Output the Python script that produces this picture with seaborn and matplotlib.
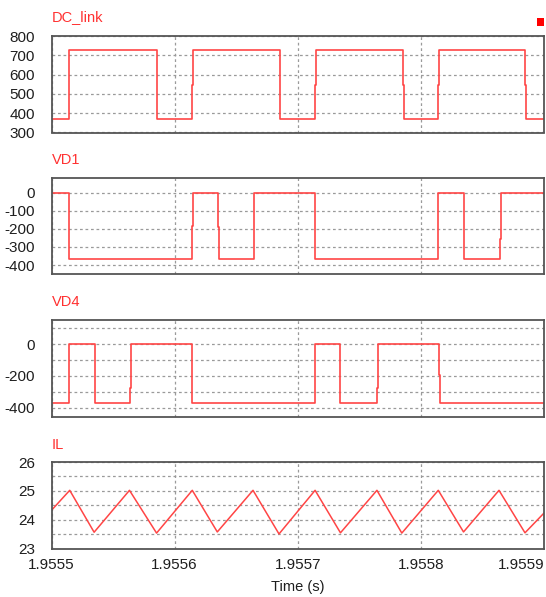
import numpy as np
import pandas as pd
import seaborn as sns
import matplotlib.pyplot as plt
from matplotlib.patches import Rectangle
from matplotlib.ticker import FixedLocator

# time axis: offsets in microseconds from t0
t0 = 1.9555
notch = 0.6  # us, small intermediate step seen on every switching edge

dc_edges = [14.0, 85.3, 114.3, 185.3, 214.3, 285.3, 314.0, 384.7]
dc_levels = [370, 729, 370, 729, 370, 729, 370, 729, 370]
dc_mid = [548, 548, 548, 548, 548, 548, 548, 548]

vd1_edges = [14.0, 114.3, 135.1, 164.1, 213.7, 313.4, 334.5, 364.1]
vd1_levels = [0, -368, 0, -368, 0, -368, 0, -368, 0]
vd1_mid = [-188, -184, -190, -280, -190, -184, -188, -255]

vd4_edges = [14.0, 35.1, 64.1, 113.7, 213.7, 234.0, 264.2, 314.9]
vd4_levels = [-368, 0, -368, 0, -368, 0, -368, 0, -368]
vd4_mid = [-186, -196, -275, -196, -186, -196, -275, -196]

il_t = [0, 14.8, 34.6, 63.3, 85.3, 114.3, 134.6, 163.6, 184.7, 214.0,
        234.6, 264.2, 284.4, 314.0, 334.5, 363.3, 384.4, 400.0]
il_v = [24.33, 25.02, 23.57, 25.02, 23.54, 25.02, 23.58, 25.02, 23.51, 25.02,
        23.55, 25.02, 23.54, 25.02, 23.58, 25.02, 23.55, 24.24]

xticks = [1.9555, 1.9556, 1.9557, 1.9558, 1.9559]
t_end = 400.0

RED = '#ff4545'
TXT_RED = '#ff3030'


def step_frame(edges, levels, mids):
    t = [0.0]
    v = [levels[0]]
    for e, m, lv in zip(edges, mids, levels[1:]):
        t += [e, e + notch]
        v += [m, lv]
    t.append(t_end)
    v.append(levels[-1])
    return pd.DataFrame({'t': t0 + np.array(t) * 1e-6, 'v': v})


sns.set_style('white')
plt.rcParams['font.family'] = ['Liberation Sans', 'DejaVu Sans']
plt.rcParams['axes.unicode_minus'] = False

fig = plt.figure(figsize=(5.46, 5.97), dpi=100)

L, W = 51.5 / 546, 492.7 / 546
boxes = [(36, 132.5), (177.7, 274.3), (320, 416.7), (462, 548.7)]
axes = []
for top, bot in boxes:
    axes.append(fig.add_axes([L, 1 - bot / 597, W, (bot - top) / 597]))

frames = [step_frame(dc_edges, dc_levels, dc_mid),
          step_frame(vd1_edges, vd1_levels, vd1_mid),
          step_frame(vd4_edges, vd4_levels, vd4_mid)]
for ax, df in zip(axes[:3], frames):
    sns.lineplot(data=df, x='t', y='v', ax=ax, color=RED, lw=1.2,
                 drawstyle='steps-post', estimator=None, sort=False)

il = pd.DataFrame({'t': t0 + np.array(il_t) * 1e-6, 'v': il_v})
sns.lineplot(data=il, x='t', y='v', ax=axes[3], color=RED, lw=1.1,
             estimator=None, sort=False)

ylims = [(300, 800), (-451, 83), (-457, 153), (23, 26)]
major = [list(range(300, 801, 100)), list(range(-400, 1, 100)), [-400, -200, 0], [23, 24, 25, 26]]
minor = [[], [], [-300, -100, 100], [23.5, 24.5, 25.5]]

for ax, yl, mj, mn in zip(axes, ylims, major, minor):
    ax.set_xlim(xticks[0], xticks[-1])
    ax.set_ylim(*yl)
    ax.set_xlabel('')
    ax.set_ylabel('')
    ax.yaxis.set_major_locator(FixedLocator(mj))
    ax.yaxis.set_minor_locator(FixedLocator(mn))
    ax.xaxis.set_major_locator(FixedLocator(xticks))
    ax.grid(True, which='both', color='#9a9a9a', lw=0.9, linestyle=(0, (2.2, 2.2)))
    ax.tick_params(which='both', length=0)
    ax.tick_params(axis='y', pad=12, labelsize=11, labelcolor='#1e1e1e')
    ax.tick_params(axis='x', pad=7, labelsize=11, labelcolor='#1e1e1e')
    for s in ax.spines.values():
        s.set_color('#555555')
        s.set_linewidth(1.3)
    ax.set_axisbelow(True)
    if ax is not axes[3]:
        ax.set_xticklabels([])

axes[3].set_xticklabels([f'{x:.4f}' for x in xticks])
axes[3].get_xticklabels()[-1].set_horizontalalignment('right')

titles = [('DC_link', 17.3), ('VD1', 160), ('VD4', 302), ('IL', 445)]
for name, y in titles:
    fig.text(51.7 / 546, 1 - y / 597, name, color=TXT_RED, fontsize=10.5,
             ha='left', va='center')

fig.text(298 / 546, 1 - 586.7 / 597, 'Time (s)', fontsize=10.5,
         color='#1e1e1e', ha='center', va='center')

fig.add_artist(Rectangle((537 / 546, 1 - 26 / 597), 7 / 546, 8 / 597,
                         transform=fig.transFigure, color='#ff0000', lw=0))

fig.savefig('out.png', dpi=100)
